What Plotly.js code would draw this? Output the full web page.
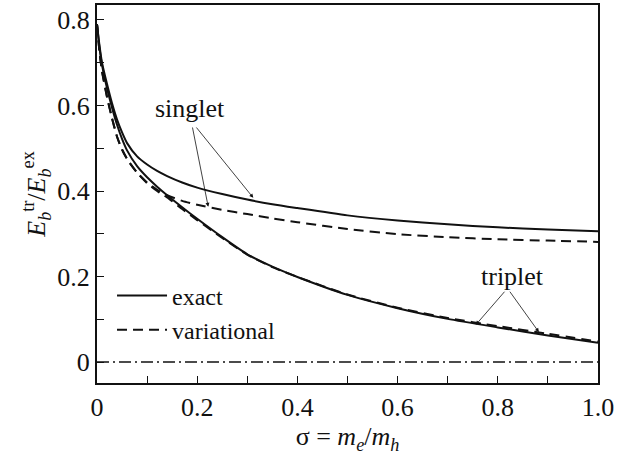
<!DOCTYPE html>
<html>
<head>
<meta charset="utf-8">
<script src="https://cdn.plot.ly/plotly-3.0.1.min.js"></script>
<style>html,body{margin:0;padding:0;background:#fff;}#chart{width:625px;height:459px;}</style>
</head>
<body>
<div id="chart"></div>
<script>
const sigma        = [0, 0.005, 0.01, 0.02, 0.03, 0.04, 0.05, 0.06, 0.08, 0.1, 0.12, 0.14, 0.17, 0.2, 0.25, 0.3, 0.35, 0.4, 0.5, 0.6, 0.7, 0.8, 0.9, 1.0];
const singletExact = [0.79, 0.74, 0.70, 0.65, 0.605, 0.567, 0.537, 0.512, 0.481, 0.462, 0.447, 0.435, 0.42, 0.408, 0.393, 0.38, 0.369, 0.36, 0.343, 0.331, 0.322, 0.315, 0.31, 0.306];
const singletVar   = [0.79, 0.725, 0.68, 0.62, 0.57, 0.527, 0.497, 0.475, 0.443, 0.42, 0.403, 0.39, 0.377, 0.368, 0.356, 0.346, 0.336, 0.327, 0.311, 0.299, 0.292, 0.287, 0.284, 0.281];
const tripletExact = [0.79, 0.735, 0.695, 0.64, 0.595, 0.555, 0.522, 0.495, 0.458, 0.432, 0.41, 0.39, 0.362, 0.335, 0.292, 0.252, 0.223, 0.199, 0.157, 0.126, 0.101, 0.081, 0.062, 0.045];
const tripletVar   = [0.79, 0.725, 0.68, 0.62, 0.57, 0.527, 0.497, 0.475, 0.443, 0.418, 0.4, 0.385, 0.358, 0.332, 0.29, 0.251, 0.222, 0.199, 0.158, 0.127, 0.103, 0.084, 0.066, 0.048];
const zeroX = [0, 1];
const zeroY = [0, 0];
const xTickVals = [0, 0.2, 0.4, 0.6, 0.8, 1.0];
const xTickText = ["0", "0.2", "0.4", "0.6", "0.8", "1.0"];
const yTickVals = [0, 0.2, 0.4, 0.6, 0.8];
const yTickText = ["0", "0.2", "0.4", "0.6", "0.8"];

const FONT = "Liberation Serif";
const FS = 26;
const solid = {color: "#111", width: 2, shape: "spline", smoothing: 0.6};
const dashed = {color: "#111", width: 2, dash: "10px,6px", shape: "spline", smoothing: 0.6};

const traces = [
  {x: sigma, y: tripletExact, mode: "lines", line: solid, name: "exact", showlegend: true},
  {x: sigma, y: singletVar, mode: "lines", line: dashed, name: "variational", showlegend: true},
  {x: sigma, y: singletExact, mode: "lines", line: solid, showlegend: false},
  {x: sigma, y: tripletVar, mode: "lines", line: dashed, showlegend: false},
  {x: zeroX, y: zeroY, mode: "lines", line: {color: "#111", width: 1.5, dash: "12px,4px,2px,4px"}, showlegend: false}
];

const arrowStyle = {showarrow: true, arrowhead: 2, arrowsize: 1.0, arrowwidth: 0.8, arrowcolor: "#111", text: "", axref: "x", ayref: "y", xref: "x", yref: "y"};

const layout = {
  width: 625, height: 459,
  margin: {l: 97, r: 27, t: 5, b: 76},
  paper_bgcolor: "#fff", plot_bgcolor: "#fff",
  font: {family: FONT, size: FS, color: "#111"},
  showlegend: true,
  legend: {x: 0.03, y: 0.29, xanchor: "left", yanchor: "top", bgcolor: "rgba(0,0,0,0)", itemwidth: 50, font: {family: FONT, size: 24, color: "#111"}, tracegroupgap: 0},
  xaxis: {
    range: [0, 1], showgrid: false, zeroline: false,
    showline: true, mirror: true, linecolor: "#111", linewidth: 2,
    ticks: "inside", ticklen: 7, tickwidth: 1, tickcolor: "#111",
    tickvals: xTickVals, ticktext: xTickText,
    minor: {ticks: "inside", ticklen: 7, tickwidth: 1, tickcolor: "#111", dtick: 0.1, tick0: 0},
    tickfont: {family: FONT, size: FS, color: "#111"},
    title: {text: "σ = <i>m</i><sub><i>e</i></sub>/<i>m</i><sub><i>h</i></sub>", font: {family: FONT, size: FS, color: "#111"}, standoff: 6}
  },
  yaxis: {
    range: [-0.049, 0.835], showgrid: false, zeroline: false,
    showline: true, mirror: true, linecolor: "#111", linewidth: 2,
    ticks: "inside", ticklen: 7, tickwidth: 1, tickcolor: "#111",
    tickvals: yTickVals, ticktext: yTickText,
    minor: {ticks: "inside", ticklen: 7, tickwidth: 1, tickcolor: "#111", dtick: 0.1, tick0: 0},
    tickfont: {family: FONT, size: FS, color: "#111"},
    title: {text: "<i>E</i><sub><i>b</i></sub><sup>tr</sup>/<i>E</i><sub><i>b</i></sub><sup>ex</sup>", font: {family: FONT, size: FS, color: "#111"}, standoff: 4}
  },
  annotations: [
    {x: 0.186, y: 0.593, xref: "x", yref: "y", text: "singlet", showarrow: false, font: {family: FONT, size: FS, color: "#111"}},
    {x: 0.829, y: 0.201, xref: "x", yref: "y", text: "triplet", showarrow: false, font: {family: FONT, size: FS, color: "#111"}},
    Object.assign({x: 0.222, y: 0.363, ax: 0.19, ay: 0.552}, arrowStyle),
    Object.assign({x: 0.312, y: 0.384, ax: 0.196, ay: 0.552}, arrowStyle),
    Object.assign({x: 0.756, y: 0.087, ax: 0.816, ay: 0.168}, arrowStyle),
    Object.assign({x: 0.882, y: 0.070, ax: 0.822, ay: 0.168}, arrowStyle)
  ]
};

Plotly.newPlot("chart", traces, layout, {displayModeBar: false, staticPlot: true});
</script>
</body>
</html>
